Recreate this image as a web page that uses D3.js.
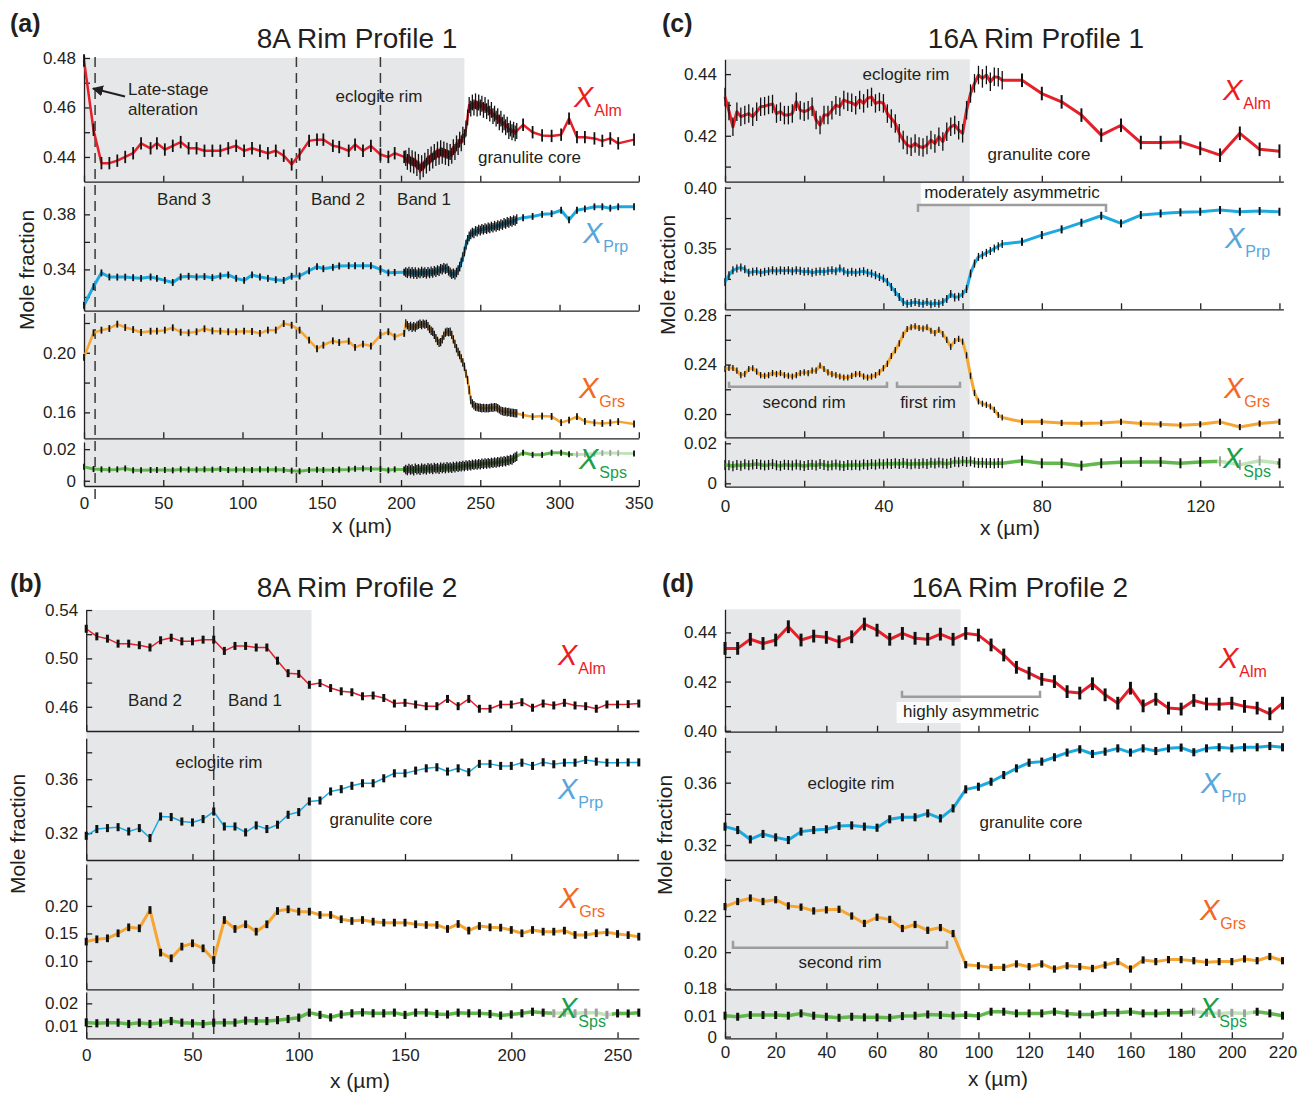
<!DOCTYPE html>
<html>
<head>
<meta charset="utf-8">
<script src="https://cdn.jsdelivr.net/npm/d3@7"></script>
<style>
  body { margin: 0; background: #fff; }
  text { font-family: "Liberation Sans", Arial, sans-serif; }
</style>
</head>
<body>
<svg id="fig" width="1298" height="1094"></svg>
<script>
// ---------- (a) 8A Rim Profile 1 ----------
const aXs = [0,6,11,16,21,26,31,36,42,46,51,56,61,66,71,76,81,86,91,96,101,106,111,116,121,126,131,136,142,147,151,157,161,167,171,176,181,187,192,196,202];
const aXd = [203,204,205,206,207,208,209,210,211,212,213,214,215,216,217,218,219,220,221,222,223,224,225,226,227,228,229,230,231,232,233,234,235,236,237,238,239,240,241,242,243,244,245,246,247,248,249,250,251,252,253,254,255,256,257,258,259,260,261,262,263,264,265,266,267,268,269,270,271,272,273];
const aXt = [277,283,289,295,301,306,311,316,322,327,332,337,347];

const aAlmS = [.479,.451,.4375,.4375,.4385,.440,.4415,.4455,.4435,.4455,.443,.4445,.446,.4435,.4435,.4425,.4425,.4425,.4435,.4445,.4425,.4435,.4425,.4415,.4425,.4405,.437,.441,.4465,.447,.447,.4445,.444,.4425,.445,.4425,.4445,.441,.440,.4415,.440];
const aAlmD = [.4395,.4380,.4405,.4370,.4395,.4365,.4390,.4355,.4380,.4340,.4375,.4350,.4385,.4365,.4400,.4375,.4410,.4385,.4420,.4395,.4430,.4400,.4435,.4405,.4430,.4400,.4425,.4395,.4420,.4405,.4440,.4420,.4455,.4440,.4470,.4455,.4490,.4480,.4515,.4560,.4610,.4595,.4620,.4600,.4625,.4595,.4620,.4600,.4615,.4590,.4610,.4585,.4600,.4575,.4590,.4565,.4575,.4555,.4565,.4540,.4555,.4530,.4540,.4520,.4530,.4505,.4515,.4500,.4510,.4495,.4505];
const aAlmT = [.4530,.4500,.4487,.4485,.4490,.4555,.4480,.4480,.4475,.4465,.4475,.4455,.4470];

const aPrpS = [.314,.3275,.3375,.3345,.3344,.3344,.3340,.3335,.3345,.3335,.3320,.3305,.3345,.3350,.3345,.3348,.3340,.3352,.3360,.3335,.3320,.3360,.3345,.3335,.3325,.3320,.3350,.3352,.3390,.3420,.3405,.3415,.3425,.3427,.3427,.3427,.3427,.3400,.3375,.3378,.3380];
const aPrpD = [.3380,.3372,.3385,.3370,.3382,.3368,.3380,.3365,.3378,.3370,.3385,.3372,.3380,.3368,.3383,.3371,.3386,.3374,.3390,.3380,.3395,.3388,.3405,.3398,.3412,.3402,.3408,.3390,.3378,.3365,.3372,.3362,.3378,.3395,.3420,.3450,.3490,.3530,.3580,.3615,.3640,.3655,.3668,.3662,.3680,.3675,.3690,.3682,.3695,.3688,.3700,.3692,.3705,.3698,.3712,.3703,.3718,.3708,.3722,.3715,.3730,.3722,.3738,.3730,.3745,.3738,.3752,.3745,.3758,.3752,.3765];
const aPrpT = [.3775,.3785,.3800,.3805,.3830,.3760,.3830,.3840,.3855,.3855,.3845,.3855,.3855];

const aGrsS = [.1969,.2134,.2152,.2163,.2192,.2170,.2156,.2136,.2145,.2145,.2152,.2168,.2138,.2134,.2141,.2161,.2147,.2145,.2141,.2141,.2145,.2143,.2130,.2152,.2152,.2196,.2185,.2152,.2085,.2027,.2051,.2080,.2069,.2078,.2036,.2058,.2045,.2118,.2141,.2107,.2130];
const aGrsD = [.2197,.2185,.2172,.2180,.2168,.2178,.2170,.2182,.2188,.2195,.2186,.2196,.2189,.2194,.2178,.2160,.2148,.2140,.2120,.2098,.2080,.2067,.2072,.2090,.2115,.2135,.2142,.2138,.2141,.2120,.2090,.2060,.2030,.2005,.1985,.1962,.1935,.1906,.1860,.1817,.1750,.1683,.1660,.1648,.1638,.1635,.1632,.1631,.1628,.1630,.1627,.1629,.1627,.1630,.1633,.1631,.1635,.1634,.1628,.1620,.1612,.1608,.1604,.1606,.1601,.1603,.1598,.1598,.1596,.1594,.1593];
const aGrsT = [.1582,.1571,.1575,.1573,.1531,.1548,.1571,.1540,.1530,.1526,.1530,.1538,.1522];

const aSpsS = [.0088,.0074,.0072,.0070,.0072,.0078,.0066,.0066,.0068,.0068,.0068,.0066,.0072,.0070,.0070,.0072,.0070,.0074,.0068,.0070,.0070,.0068,.0072,.0070,.0072,.0068,.0064,.0060,.0068,.0070,.0068,.0068,.0070,.0072,.0076,.0078,.0074,.0074,.0066,.0072,.0072];
const aSpsD = [.0072,.0065,.0078,.0068,.0075,.0064,.0079,.0070,.0076,.0067,.0080,.0072,.0078,.0069,.0082,.0074,.0080,.0071,.0084,.0076,.0082,.0073,.0085,.0078,.0086,.0077,.0088,.0080,.0087,.0079,.0090,.0083,.0092,.0085,.0094,.0088,.0096,.0090,.0099,.0093,.0101,.0095,.0104,.0098,.0106,.0100,.0108,.0102,.0110,.0104,.0112,.0106,.0114,.0108,.0116,.0110,.0118,.0112,.0120,.0115,.0123,.0118,.0126,.0121,.0130,.0126,.0135,.0132,.0142,.0148,.0155];
const aSpsT = [.0177,.0164,.0164,.0177,.0177,.0168,.0166,.0168,.0172,.0175,.0176,.0174,.0173];

// ---------- (b) 8A Rim Profile 2 ----------
const bX = [0,5,10,15,20,25,30,35,40,45,50,55,60,65,70,75,80,85,90,95,100,105,110,115,120,125,130,135,140,145,150,155,160,165,170,175,180,185,190,195,200,205,210,215,220,225,230,235,240,245,250,255,260];
const bAlm = [.5245,.5182,.5163,.5122,.5122,.5109,.509,.515,.5171,.5141,.5141,.5155,.5155,.5062,.5103,.5103,.509,.509,.4981,.4878,.4872,.4782,.4796,.4755,.4728,.472,.4687,.4693,.4673,.4627,.4633,.4619,.4605,.4605,.4665,.4605,.4665,.4584,.4584,.4619,.4619,.4638,.4592,.4627,.4611,.4633,.4611,.4605,.4584,.4619,.4619,.4622,.4627];
const bPrp = [.318,.323,.3237,.3244,.3212,.3237,.3163,.3323,.3319,.3286,.3279,.3304,.336,.3249,.3249,.3205,.3257,.323,.3262,.3336,.3356,.3435,.3442,.3509,.3526,.3551,.357,.357,.3607,.3644,.3644,.3664,.3681,.3689,.3657,.3681,.3652,.3714,.3714,.3699,.3699,.3723,.3699,.3726,.3711,.3723,.3723,.3743,.3731,.3723,.3723,.3725,.3725];
const bGrs = [.1352,.1394,.1412,.1503,.1612,.1594,.1927,.1152,.1048,.1261,.1321,.123,.1018,.1745,.1582,.1667,.1533,.1667,.1909,.1939,.1897,.1897,.1836,.1836,.1758,.1727,.1745,.1715,.1697,.1697,.1697,.1667,.1655,.1655,.1582,.1673,.1552,.1636,.1612,.1606,.1564,.1503,.1564,.1533,.1533,.1552,.1473,.1473,.1503,.1521,.1491,.1470,.1442];
const bSps = [.0116,.0112,.0115,.0115,.0109,.0115,.0109,.0115,.0122,.0115,.0112,.0109,.0115,.0115,.0115,.0124,.0122,.0122,.0126,.0131,.0137,.0159,.0149,.0138,.0151,.0156,.016,.0156,.0156,.0159,.0149,.0159,.0159,.0153,.0151,.0159,.0156,.0156,.0153,.0146,.0151,.0156,.0163,.0159,.0156,.0159,.0156,.0159,.0159,.0149,.0156,.0155,.0159];

// ---------- (c) 16A Rim Profile 1 ----------
const cXd = [0,1,2,3,4,5,6,7,8,9,10,11,12,13,14,15,16,17,18,19,20,21,22,23,24,25,26,27,28,29,30,31,32,33,34,35,36,37,38,39,40,41,42,43,44,45,46,47,48,49,50,51,52,53,54,55,56,57,58,59,60,61,62,63,64,65,66,67,68,69,70];
const cXs = [75,80,85,90,95,100,105,110,115,120,125,130,135,140];

const cAlmD = [.4326,.4280,.4229,.4278,.4262,.4267,.4272,.4262,.4278,.4294,.4296,.4300,.4303,.4272,.4278,.4267,.4267,.4272,.4310,.4283,.4278,.4283,.4294,.4251,.4235,.4267,.4267,.4283,.4299,.4294,.4316,.4310,.4307,.4299,.4316,.4305,.4321,.4326,.4305,.4310,.4305,.4272,.4256,.4240,.4208,.4186,.4170,.4164,.4175,.4165,.4162,.4170,.4186,.4175,.4197,.4181,.4213,.4229,.4235,.4218,.4208,.4283,.4337,.4370,.4397,.4386,.4397,.4375,.4391,.4390,.4380];
const cAlmS = [.438,.4337,.431,.4267,.4202,.4234,.4178,.4178,.418,.4159,.4137,.4208,.4156,.4150];
const cPrpD = [.3225,.3280,.3321,.3335,.3343,.3330,.3300,.3308,.3313,.3300,.3308,.3313,.3321,.3313,.3321,.3316,.3321,.3313,.3321,.3316,.3308,.3313,.3300,.3308,.3313,.3308,.3316,.3321,.3313,.3335,.3313,.3300,.3308,.3300,.3308,.3313,.3300,.3294,.3280,.3266,.3253,.3225,.3184,.3143,.3101,.3060,.3046,.3052,.3060,.3052,.3046,.3060,.3041,.3052,.3046,.3060,.3085,.3126,.3098,.3104,.3126,.3167,.3294,.3376,.3431,.3445,.3464,.3480,.3500,.3519,.3536];
const cPrpS = [.3555,.361,.3657,.3712,.3769,.3706,.3775,.3788,.3797,.3802,.3816,.3802,.3808,.3802];
const cGrsD = [.2364,.2372,.2372,.2350,.2314,.2323,.2364,.2370,.2342,.2314,.2309,.2314,.2331,.2323,.2331,.2314,.2309,.2303,.2314,.2331,.2337,.2331,.2350,.2350,.2392,.2364,.2337,.2323,.2314,.2303,.2295,.2295,.2309,.2323,.2323,.2303,.2295,.2303,.2314,.2337,.2370,.2406,.2469,.2516,.2571,.2640,.2687,.2701,.2709,.2695,.2690,.2701,.2673,.2654,.2681,.2646,.2599,.2543,.2590,.2607,.2585,.2474,.2309,.2171,.2102,.2083,.2074,.2061,.2033,.1992,.1972];
const cGrsS = [.1937,.1937,.1928,.1923,.1928,.1937,.1923,.1917,.1909,.1917,.1937,.1895,.1923,.1937];
const cSpsD = [.0092,.0090,.0085,.0092,.0088,.0095,.0090,.0094,.0097,.0093,.0089,.0092,.0096,.0090,.0087,.0093,.0091,.0089,.0094,.0090,.0086,.0091,.0093,.0089,.0096,.0092,.0088,.0090,.0094,.0089,.0087,.0092,.0090,.0093,.0089,.0095,.0092,.0096,.0093,.0098,.0095,.0099,.0096,.0100,.0097,.0101,.0098,.0095,.0099,.0096,.0100,.0097,.0103,.0099,.0104,.0100,.0098,.0102,.0108,.0105,.0111,.0107,.0110,.0104,.0101,.0103,.0100,.0102,.0099,.0101,.0100];
const cSpsS = [.0113,.0100,.0100,.0088,.0100,.0105,.0107,.0107,.0100,.0107,.0110,.0092,.0113,.0100];

// ---------- (d) 16A Rim Profile 2 ----------
const dX = [0,5,10,15,20,25,30,35,40,45,50,55,60,65,70,75,80,85,90,95,100,105,110,115,120,125,130,135,140,145,150,155,160,165,170,175,180,185,190,195,200,205,210,215,220];
const dAlm = [.4335,.4335,.4372,.4355,.4369,.4423,.4369,.4385,.438,.4362,.4382,.4434,.4409,.4372,.4396,.4376,.4372,.4393,.4372,.4396,.4389,.4349,.4308,.4258,.4234,.4209,.42,.4159,.4153,.4191,.4146,.4112,.4173,.4101,.4128,.4092,.4088,.4123,.4109,.4108,.4112,.4099,.4092,.4069,.4112];
const dPrp = [.3318,.3296,.3236,.3271,.3249,.3232,.3286,.3296,.3301,.3322,.3326,.3318,.3311,.3365,.3378,.3378,.3403,.3371,.3435,.3557,.3574,.3606,.3649,.3692,.3728,.3735,.3763,.3793,.3814,.3784,.3799,.3820,.3793,.3820,.3803,.3820,.3825,.3795,.3820,.3827,.3820,.3827,.3827,.3835,.3827];
const dGrs = [.2252,.228,.2299,.228,.229,.2256,.2249,.2228,.2234,.2237,.22,.2159,.2193,.2181,.2131,.2153,.2121,.2136,.2103,.1931,.1925,.1916,.1916,.1935,.192,.1935,.1907,.1925,.192,.191,.1929,.1948,.1907,.1957,.1948,.1959,.1959,.1953,.1944,.1948,.1948,.1963,.1953,.1976,.1953];
const dSps = [.010,.0095,.0103,.0103,.0103,.010,.0111,.010,.0095,.009,.0095,.0092,.0092,.009,.0098,.010,.0106,.0103,.010,.0103,.0098,.0119,.0119,.0111,.0111,.0111,.0119,.0111,.0106,.0106,.0114,.0114,.0119,.0111,.0111,.0114,.0114,.0119,.0114,.0111,.0114,.0111,.0119,.0111,.010];

// error bar half-lengths (mole fraction): Alm, Prp, Grs, Sps
const aErr = [.0025, .0025, .0023, .0019];
const aErrDense = [.0032, .0035, .0028, .003];
const bErr = [.0033, .003, .007, .0018];
const cErr = [.0022, .0033, .0025, .0025];
const cErrDense = [.003, .0033, .0025, .0025];
const dErr = [.0026, .0026, .002, .0019];

// axis ticks and labels
const aXTicks = [0,50,100,150,200,250,300,350], aXLabels = ["0","50","100","150","200","250","300","350"];
const bXTicks = [0,50,100,150,200,250], bXLabels = ["0","50","100","150","200","250"];
const cXTicks = [0,20,40,60,80,100,120,140], cXLabels = ["0","","40","","80","","120",""];
const dXTicks = [0,20,40,60,80,100,120,140,160,180,200,220], dXLabels = ["0","20","40","60","80","100","120","140","160","180","200","220"];

const names = ["Alm", "Prp", "Grs", "Sps"];
const lineColor = {Alm: "#e5202a", Prp: "#1ca9e1", Grs: "#f6a532", Sps: "#62b94b"};
const labelColor = {Alm: "#ec1c24", Prp: "#58a6dc", Grs: "#f26825", Sps: "#17a04b"};
const INK = "#231f20";

const pts = (xs, vs, e, dense) => xs.map((x, i) => ({x: x, v: vs[i], e: e, dense: dense}));

const panels = [
  {
    tag: "(a)", tagX: 10, tagY: 32, title: "8A Rim Profile 1", titleX: 357, titleY: 48,
    x0: 84, x1: 638.8, xDomain: [0, 350], xTicks: aXTicks, xLabels: aXLabels, xPad: 11,
    xTitle: [362, 533], yTitle: [27, 270],
    shade: [0, 240], shadeY: [58, 486], barW: 1.8,
    dashed: [{x: 7, y0: 57, y1: 500}, {x: 134, y0: 57, y1: 484}, {x: 187, y0: 57, y1: 484}],
    subs: [
      {yr: [181.7, 55], dom: [0.43, 0.4812], ticks: [.44,.45,.46,.47,.48], labels: ["0.44","","0.46","","0.48"],
       data: pts(aXs, aAlmS, aErr[0]).concat(pts(aXd, aAlmD, aErrDense[0], true), pts(aXt, aAlmT, aErr[0])), lw: 2.5, lab: [574, 107]},
      {yr: [310.7, 186], dom: [0.31, 0.4006], ticks: [.32,.34,.36,.38], labels: ["","0.34","","0.38"],
       data: pts(aXs, aPrpS, aErr[1]).concat(pts(aXd, aPrpD, aErrDense[1], true), pts(aXt, aPrpT, aErr[1])), lw: 3, lab: [583, 243]},
      {yr: [438.3, 313.3], dom: [0.1426, 0.2265], ticks: [.16,.18,.20,.22], labels: ["0.16","","0.20",""],
       data: pts(aXs, aGrsS, aErr[2]).concat(pts(aXd, aGrsD, aErrDense[2], true), pts(aXt, aGrsT, aErr[2])), lw: 2.5, lab: [579, 398]},
      {yr: [486, 442], dom: [-0.0033, 0.0245], ticks: [0, .02], labels: ["0","0.02"],
       data: pts(aXs, aSpsS, aErr[3]).concat(pts(aXd, aSpsD, aErrDense[3], true), pts(aXt, aSpsT, aErr[3])), lw: 3, lab: [579, 469], fade: true}
    ],
    notes: [
      {t: "Late-stage", x: 128, y: 95}, {t: "alteration", x: 128, y: 115},
      {t: "eclogite rim", x: 379, y: 102, a: "middle"}, {t: "granulite core", x: 478, y: 163},
      {t: "Band 3", x: 184, y: 205, a: "middle"}, {t: "Band 2", x: 338, y: 205, a: "middle"}, {t: "Band 1", x: 424, y: 205, a: "middle"}
    ],
    brackets: [],
    arrow: [125, 96.5, 93, 88.5]
  },
  {
    tag: "(b)", tagX: 10, tagY: 592, title: "8A Rim Profile 2", titleX: 357, titleY: 597,
    x0: 86.2, x1: 638.8, xDomain: [0, 260], xTicks: bXTicks, xLabels: bXLabels, xPad: 11,
    xTitle: [360, 1088], yTitle: [18, 834],
    shade: [0, 106], shadeY: [610, 1038.3], barW: 3,
    dashed: [{x: 60, y0: 610, y1: 1034}],
    subs: [
      {yr: [731, 610], dom: [0.44, 0.54], ticks: [.46,.48,.50,.52,.54], labels: ["0.46","","0.50","","0.54"],
       data: pts(bX, bAlm, bErr[0]), lw: 1.5, lab: [558, 665]},
      {yr: [860, 738.3], dom: [0.30, 0.3904], ticks: [.32,.34,.36,.38], labels: ["0.32","","0.36",""],
       data: pts(bX, bPrp, bErr[1]), lw: 1.5, lab: [558, 799]},
      {yr: [989.3, 864], dom: [0.0485, 0.2763], ticks: [.10,.15,.20,.25], labels: ["0.10","0.15","0.20",""],
       data: pts(bX, bGrs, bErr[2]), lw: 3, lab: [559, 908]},
      {yr: [1038.3, 992], dom: [0.0046, 0.025], ticks: [.01, .02], labels: ["0.01","0.02"],
       data: pts(bX, bSps, bErr[3]), lw: 3.5, lab: [558, 1018], fade: true}
    ],
    notes: [
      {t: "Band 2", x: 155, y: 706, a: "middle"}, {t: "Band 1", x: 255, y: 706, a: "middle"},
      {t: "eclogite rim", x: 219, y: 768, a: "middle"}, {t: "granulite core", x: 381, y: 825, a: "middle"}
    ],
    brackets: []
  },
  {
    tag: "(c)", tagX: 662, tagY: 32, title: "16A Rim Profile 1", titleX: 1036, titleY: 48,
    x0: 725, x1: 1283.4, xDomain: [0, 141], xTicks: cXTicks, xLabels: cXLabels, xPad: 13,
    xTitle: [1010, 535], yTitle: [668, 275],
    shade: [0, 61.8], shadeY: [59.3, 486.7], barW: 2,
    dashed: [],
    subs: [
      {yr: [181.7, 59.3], dom: [0.4051, 0.4448], ticks: [.41,.42,.43,.44], labels: ["","0.42","","0.44"],
       data: pts(cXd, cAlmD, cErrDense[0], true).concat(pts(cXs, cAlmS, cErr[0])), lw: 3, lab: [1223, 100]},
      {yr: [309.3, 186.7], dom: [0.30, 0.4008], ticks: [.325,.35,.375,.40], labels: ["","0.35","","0.40"],
       data: pts(cXd, cPrpD, cErrDense[1], true).concat(pts(cXs, cPrpS, cErr[1])), lw: 3, lab: [1225, 248]},
      {yr: [437.3, 314.4], dom: [0.1812, 0.2805], ticks: [.20,.22,.24,.26,.28], labels: ["0.20","","0.24","","0.28"],
       data: pts(cXd, cGrsD, cErrDense[2], true).concat(pts(cXs, cGrsS, cErr[2])), lw: 3, lab: [1224, 398]},
      {yr: [486.7, 440.7], dom: [-0.0017, 0.0213], ticks: [0, .02], labels: ["0","0.02"],
       data: pts(cXd, cSpsD, cErrDense[3], true).concat(pts(cXs, cSpsS, cErr[3])), lw: 3.5, lab: [1223, 468], fade: true}
    ],
    notes: [
      {t: "eclogite rim", x: 906, y: 80, a: "middle"}, {t: "granulite core", x: 1039, y: 160, a: "middle"},
      {t: "moderately asymmetric", x: 1012, y: 198, a: "middle", bg: true},
      {t: "second rim", x: 804, y: 408, a: "middle"}, {t: "first rim", x: 928, y: 408, a: "middle"}
    ],
    brackets: [[918, 1106, 205, 7], [729, 887, 386.7, -5], [897, 960, 386.7, -5]]
  },
  {
    tag: "(d)", tagX: 662, tagY: 592, title: "16A Rim Profile 2", titleX: 1020, titleY: 597,
    x0: 725, x1: 1282.5, xDomain: [0, 220], xTicks: dXTicks, xLabels: dXLabels, xPad: 8,
    xTitle: [998, 1086], yTitle: [665, 835],
    shade: [0, 93], shadeY: [609.3, 1038.3], barW: 3,
    dashed: [],
    subs: [
      {yr: [731.7, 609.3], dom: [0.3996, 0.4494], ticks: [.40,.41,.42,.43,.44], labels: ["0.40","","0.42","","0.44"],
       data: pts(dX, dAlm, dErr[0]), lw: 3, lab: [1219, 668]},
      {yr: [860, 737.3], dom: [0.3104, 0.3891], ticks: [.32,.34,.36,.38], labels: ["0.32","","0.36",""],
       data: pts(dX, dPrp, dErr[1]), lw: 3, lab: [1201, 793]},
      {yr: [989.3, 878], dom: [0.1795, 0.241], ticks: [.18,.20,.22,.24], labels: ["0.18","0.20","0.22",""],
       data: pts(dX, dGrs, dErr[2]), lw: 3, lab: [1200, 920]},
      {yr: [1038.3, 991], dom: [-0.0008, 0.0218], ticks: [0, .01], labels: ["0","0.01"],
       data: pts(dX, dSps, dErr[3]), lw: 3.5, lab: [1199, 1018], fade: true}
    ],
    notes: [
      {t: "highly asymmetric", x: 971, y: 717, a: "middle", bg: true},
      {t: "eclogite rim", x: 851, y: 789, a: "middle"}, {t: "granulite core", x: 1031, y: 828, a: "middle"},
      {t: "second rim", x: 840, y: 968, a: "middle"}
    ],
    brackets: [[902, 1040, 696.7, -6], [733, 947, 947.7, -7]]
  }
];

const svg = d3.select("#fig");
svg.append("rect").attr("width", 1298).attr("height", 1094).attr("fill", "#fff");

const defs = svg.append("defs");
defs.append("marker").attr("id", "head").attr("viewBox", "0 0 10 10").attr("refX", 9).attr("refY", 5)
  .attr("markerWidth", 5).attr("markerHeight", 5).attr("orient", "auto")
  .append("path").attr("d", "M0,0 L10,5 L0,10 z").attr("fill", INK);

function styleAxis(g) {
  g.attr("font-size", 17).attr("font-family", "Liberation Sans, Arial, sans-serif").attr("color", INK);
  g.selectAll("path, line").attr("stroke-width", 1.3);
}

function drawPanel(p) {
  const g = svg.append("g");
  const x = d3.scaleLinear().domain(p.xDomain).range([p.x0, p.x1]);

  g.append("rect")
    .attr("x", x(p.shade[0])).attr("y", p.shadeY[0])
    .attr("width", x(p.shade[1]) - x(p.shade[0]))
    .attr("height", p.shadeY[1] - p.shadeY[0])
    .attr("fill", "#e6e7e8");

  p.dashed.forEach(d => {
    g.append("line")
      .attr("x1", x(d.x)).attr("x2", x(d.x)).attr("y1", d.y0).attr("y2", d.y1)
      .attr("stroke", "#3a3a3a").attr("stroke-width", 1.5).attr("stroke-dasharray", "10,6");
  });

  // text labels with white boxes behind them go under the data
  p.notes.filter(n => n.bg).forEach(n => {
    const w = n.t.length * 8.4;
    g.append("rect").attr("x", n.x - w / 2 - 3).attr("y", n.y - 15).attr("width", w + 6).attr("height", 21)
      .attr("fill", "#fff").attr("opacity", 0.85);
  });

  p.subs.forEach((s, k) => {
    const y = d3.scaleLinear().domain(s.dom).range(s.yr);
    const last = k === p.subs.length - 1;

    g.append("g").attr("transform", `translate(${p.x0},0)`)
      .call(d3.axisLeft(y).tickValues(s.ticks).tickSize(-6).tickSizeOuter(0).tickPadding(8)
        .tickFormat((d, i) => s.labels[i]))
      .call(styleAxis);

    g.append("g").attr("transform", `translate(0,${s.yr[0]})`)
      .call(d3.axisBottom(x).tickValues(p.xTicks).tickSize(-6).tickSizeOuter(0).tickPadding(p.xPad)
        .tickFormat((d, i) => last ? p.xLabels[i] : ""))
      .call(styleAxis);

    const name = names[k];
    const data = s.data.slice().sort((a, b) => a.x - b.x);
    const line = d3.line().x(d => x(d.x)).y(d => y(d.v));

    g.append("path").datum(data)
      .attr("d", line).attr("fill", "none")
      .attr("stroke", lineColor[name]).attr("stroke-width", s.lw)
      .attr("stroke-linejoin", "round");

    g.append("g").selectAll("line").data(data).enter().append("line")
      .attr("x1", d => x(d.x)).attr("x2", d => x(d.x))
      .attr("y1", d => y(d.v - d.e)).attr("y2", d => y(d.v + d.e))
      .attr("stroke", "#111").attr("stroke-width", d => d.dense ? 1.3 : p.barW);

    if (s.fade) {
      g.append("rect").attr("x", s.lab[0] - 6).attr("y", s.lab[1] - 22).attr("width", 60).attr("height", 34)
        .attr("fill", "#fff").attr("opacity", 0.6);
    }

    const lt = g.append("text").attr("x", s.lab[0]).attr("y", s.lab[1]).attr("fill", labelColor[name]);
    lt.append("tspan").attr("font-size", 29).attr("font-style", "italic").text("X");
    lt.append("tspan").attr("font-size", 16).attr("dy", 9).attr("dx", 1).text(name);
  });

  p.brackets.forEach(b => {
    g.append("path")
      .attr("d", `M${b[0]},${b[2] + b[3]} V${b[2]} H${b[1]} V${b[2] + b[3]}`)
      .attr("fill", "none").attr("stroke", "#9d9d9d").attr("stroke-width", 2.5);
  });

  p.notes.forEach(n => {
    g.append("text").attr("x", n.x).attr("y", n.y).attr("font-size", 17)
      .attr("text-anchor", n.a || "start").attr("fill", INK).text(n.t);
  });

  if (p.arrow) {
    g.append("line").attr("x1", p.arrow[0]).attr("y1", p.arrow[1]).attr("x2", p.arrow[2]).attr("y2", p.arrow[3])
      .attr("stroke", INK).attr("stroke-width", 2.2).attr("marker-end", "url(#head)");
  }

  g.append("text").attr("x", p.tagX).attr("y", p.tagY).attr("font-size", 25).attr("font-weight", "bold")
    .attr("fill", INK).text(p.tag);
  g.append("text").attr("x", p.titleX).attr("y", p.titleY).attr("font-size", 28)
    .attr("text-anchor", "middle").attr("fill", INK).text(p.title);
  g.append("text").attr("x", p.xTitle[0]).attr("y", p.xTitle[1]).attr("font-size", 21)
    .attr("text-anchor", "middle").attr("fill", INK).text("x (µm)");
  g.append("text").attr("transform", `translate(${p.yTitle[0]},${p.yTitle[1]}) rotate(-90)`)
    .attr("dy", "0.35em").attr("font-size", 21).attr("text-anchor", "middle").attr("fill", INK).text("Mole fraction");
}

panels.forEach(drawPanel);
</script>
</body>
</html>
